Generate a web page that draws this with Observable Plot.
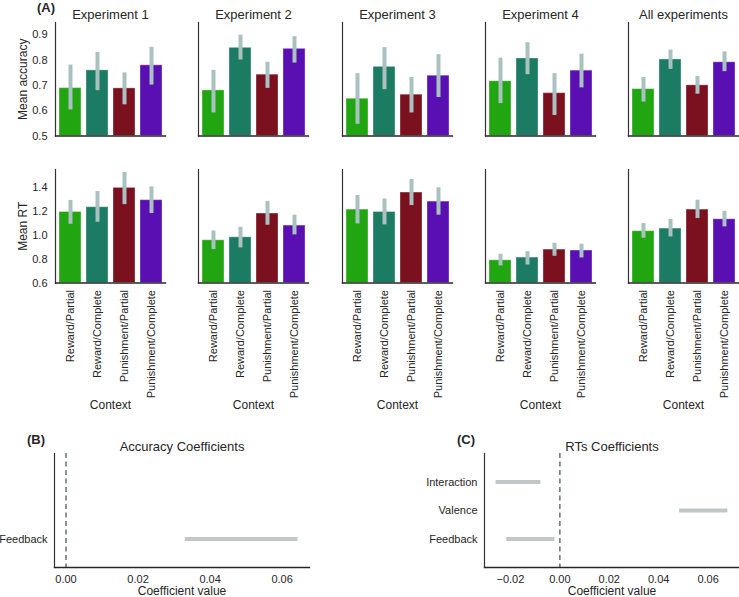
<!DOCTYPE html>
<html><head><meta charset="utf-8">
<script src="https://cdn.jsdelivr.net/npm/d3@7"></script>
<script src="https://cdn.jsdelivr.net/npm/@observablehq/plot@0.6"></script>
<style>
body{margin:0;background:#fff;}
#chart{position:relative;width:739px;height:597px;overflow:hidden;font-family:"Liberation Sans",Arial,sans-serif;color:#262626;}
#chart svg{position:absolute;overflow:visible;background:transparent;}
.tag{position:absolute;font-weight:bold;font-size:13px;line-height:13px;}
</style></head><body><div id="chart"></div>
<script>
// ---------- data ----------
const experiments = ["Experiment 1","Experiment 2","Experiment 3","Experiment 4","All experiments"];
const contexts = ["Reward/Partial","Reward/Complete","Punishment/Partial","Punishment/Complete"];
const contextColors = ["#21a511","#1c7b63","#7b101f","#5a0fb3"];

const accMean = [
  [0.689, 0.759, 0.688, 0.779],
  [0.680, 0.848, 0.742, 0.844],
  [0.647, 0.773, 0.663, 0.738],
  [0.716, 0.806, 0.669, 0.758],
  [0.685, 0.802, 0.700, 0.791]
];
const accLo = [
  [0.603, 0.679, 0.623, 0.701],
  [0.591, 0.800, 0.688, 0.788],
  [0.546, 0.683, 0.591, 0.652],
  [0.628, 0.742, 0.581, 0.690],
  [0.634, 0.763, 0.665, 0.754]
];
const accHi = [
  [0.780, 0.830, 0.749, 0.850],
  [0.759, 0.898, 0.791, 0.892],
  [0.746, 0.849, 0.731, 0.821],
  [0.807, 0.868, 0.746, 0.823],
  [0.731, 0.839, 0.735, 0.832]
];
const rtMean = [
  [1.195, 1.235, 1.397, 1.294],
  [0.958, 0.983, 1.182, 1.081],
  [1.215, 1.195, 1.358, 1.282],
  [0.790, 0.813, 0.880, 0.872],
  [1.034, 1.056, 1.215, 1.134]
];
const rtLo = [
  [1.092, 1.109, 1.257, 1.182],
  [0.880, 0.894, 1.084, 1.003],
  [1.095, 1.087, 1.249, 1.168],
  [0.743, 0.751, 0.824, 0.810],
  [0.975, 0.986, 1.140, 1.070]
];
const rtHi = [
  [1.292, 1.366, 1.526, 1.405],
  [1.036, 1.067, 1.282, 1.168],
  [1.333, 1.304, 1.467, 1.397],
  [0.841, 0.863, 0.933, 0.925],
  [1.098, 1.132, 1.294, 1.201]
];
const accTicks = [0.5, 0.6, 0.7, 0.8, 0.9];
const rtTicks = [0.6, 0.8, 1.0, 1.2, 1.4];
const accDomain = [0.5, 0.948];
const rtDomain = [0.6, 1.551];

const coefNames = ["Feedback", "Valence", "Interaction"];
const accCoefLo = [0.0331];
const accCoefHi = [0.0644];
const rtCoefLo = [-0.0215, 0.0485, -0.0258];
const rtCoefHi = [-0.0020, 0.0680, -0.0077];
const accCoefDomain = [-0.0032, 0.0676];
const rtCoefDomain = [-0.0305, 0.0727];
const accCoefTicks = [0, 0.02, 0.04, 0.06];
const rtCoefTicks = [-0.02, 0, 0.02, 0.04, 0.06];

// ---------- layout ----------
const chart = document.getElementById("chart");
const FONT = '"Liberation Sans", Arial, sans-serif';
function place(svg, left, top) {
  svg.style.left = left + "px";
  svg.style.top = top + "px";
  chart.appendChild(svg);
}
function tag(text, left, top) {
  const d = document.createElement("div");
  d.className = "tag"; d.textContent = text;
  d.style.left = left + "px"; d.style.top = top + "px";
  chart.appendChild(d);
}

const panelLeft0 = 55, panelStep = 143.25, panelW = 110, mL = 50, mR = 5;

function barPanel(i, kind) {
  const isAcc = kind === "acc";
  const mean = isAcc ? accMean[i] : rtMean[i];
  const lo = isAcc ? accLo[i] : rtLo[i];
  const hi = isAcc ? accHi[i] : rtHi[i];
  const domain = isAcc ? accDomain : rtDomain;
  const data = contexts.map((c, j) => ({context: c, mean: mean[j], lo: lo[j], hi: hi[j]}));
  const first = i === 0;
  const marks = [
    Plot.barY(data, {x: "context", y1: () => domain[0], y2: "mean", fill: "context",
      stroke: "#ffffff", strokeOpacity: 0.35, strokeWidth: 1}),
    Plot.ruleX(data, {x: "context", y1: "lo", y2: "hi", stroke: "#a9c1c1", strokeWidth: 4}),
    Plot.frame({anchor: "left", stroke: "#333", strokeWidth: 1.2}),
    Plot.frame({anchor: "bottom", stroke: "#262626", strokeWidth: 1.3})
  ];
  if (isAcc) {
    marks.push(Plot.text([experiments[i]], {frameAnchor: "top", text: d => d, dy: -8,
      lineAnchor: "middle", fontSize: 13, fill: "#262626"}));
  } else {
    marks.push(Plot.text(["Context"], {frameAnchor: "bottom", text: d => d, dy: 122.5,
      lineAnchor: "middle", fontSize: 12, fill: "#262626"}));
  }
  if (first) {
    marks.push(Plot.text([isAcc ? "Mean accuracy" : "Mean RT"], {frameAnchor: "left", text: d => d,
      rotate: -90, dx: -32, textAnchor: "middle", lineAnchor: "middle", fontSize: 12, fill: "#262626"}));
  }
  const mt = isAcc ? 22 : 19;
  const mb = isAcc ? 5 : 130.5;
  const svg = Plot.plot({
    width: mL + panelW + mR,
    height: mt + 113.5 + mb,
    marginLeft: mL, marginRight: mR, marginTop: mt, marginBottom: mb,
    style: {fontFamily: FONT, fontSize: "11px", color: "#262626", background: "transparent", overflow: "visible"},
    x: {domain: contexts, paddingInner: 0.2, paddingOuter: 0.1,
        axis: isAcc ? null : "bottom", tickRotate: -90, tickSize: 0, tickPadding: 7, label: null},
    y: {domain, ticks: isAcc ? accTicks : rtTicks, axis: first ? "left" : null,
        tickSize: 0, tickPadding: 8, tickFormat: d3.format(".1f"), label: null},
    color: {domain: contexts, range: contextColors},
    marks
  });
  place(svg, panelLeft0 + i * panelStep - mL, isAcc ? 0 : 150);
}

for (let i = 0; i < experiments.length; i++) {
  barPanel(i, "acc");
  barPanel(i, "rt");
}

function coefPanel(names, lo, hi, domain, ticks, title, left) {
  const data = names.map((n, j) => ({idx: j, lo: lo[j], hi: hi[j]}));
  const svg = Plot.plot({
    width: 54 + 255 + 10, height: 33 + 114 + 30,
    marginLeft: 54, marginRight: 10, marginTop: 33, marginBottom: 30,
    style: {fontFamily: FONT, fontSize: "11px", color: "#262626", background: "transparent", overflow: "visible"},
    x: {domain, ticks, tickFormat: d3.format(".2f"), tickSize: 0, tickPadding: 8, label: null},
    y: {domain: [-1, 3], ticks: names.map((n, j) => j), tickFormat: j => coefNames[j],
        tickSize: 0, tickPadding: 7, label: null},
    marks: [
      Plot.ruleX([0], {stroke: "#6f7c7c", strokeWidth: 1.6, strokeDasharray: "5,3.5"}),
      Plot.ruleY(data, {y: "idx", x1: "lo", x2: "hi", stroke: "#bfc7c7", strokeWidth: 4}),
      Plot.frame({anchor: "left", stroke: "#333", strokeWidth: 1.2}),
      Plot.frame({anchor: "bottom", stroke: "#262626", strokeWidth: 1.3}),
      Plot.text([title], {frameAnchor: "top", text: d => d, dy: -7, lineAnchor: "middle", fontSize: 13, fill: "#262626"}),
      Plot.text(["Coefficient value"], {frameAnchor: "bottom", text: d => d, dy: 23.5, lineAnchor: "middle", fontSize: 12, fill: "#262626"})
    ]
  });
  place(svg, left, 420);
}

coefPanel(coefNames.slice(0, 1), accCoefLo, accCoefHi, accCoefDomain, accCoefTicks, "Accuracy Coefficients", 0);
coefPanel(coefNames, rtCoefLo, rtCoefHi, rtCoefDomain, rtCoefTicks, "RTs Coefficients", 430);

tag("(A)", 37, 1);
tag("(B)", 27, 433);
tag("(C)", 457, 433);
</script></body></html>
